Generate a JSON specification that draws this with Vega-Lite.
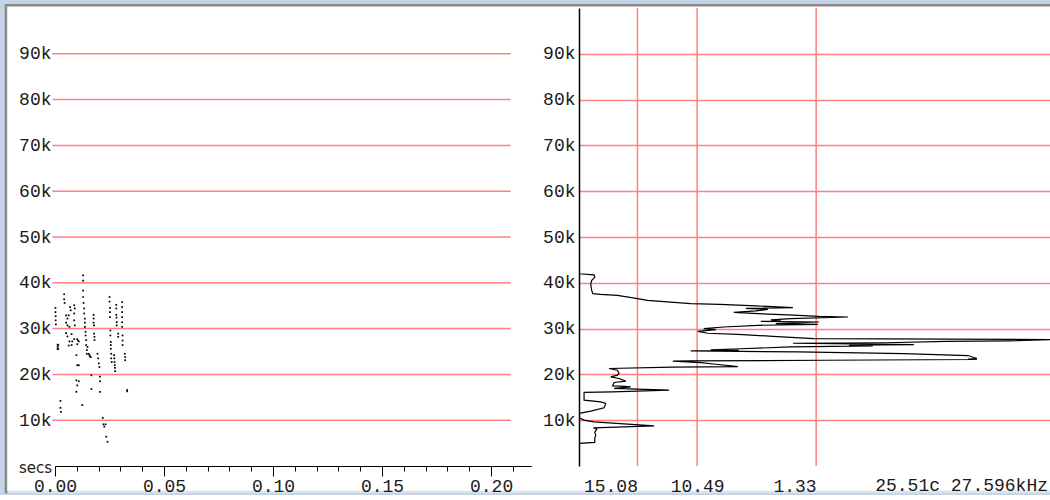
{
  "$schema": "https://vega.github.io/schema/vega-lite/v6.json",
  "background": "#c4d3e6",
  "padding": {"left": 4, "top": 4, "right": 0, "bottom": 0},
  "bounds": "flush",
  "spacing": 48,
  "config": {
    "view": {"stroke": null},
    "axis": {
      "labelFont": "Liberation Mono",
      "labelFontSize": 18,
      "labelColor": "#1a1a1a",
      "domainColor": "#000000",
      "tickColor": "#000000",
      "gridColor": "#ff8080",
      "gridWidth": 1.5,
      "labelFlush": false,
      "labelOverlap": false,
      "labelBound": false
    }
  },
  "datasets": {
    "grid": [{"khz": 10}, {"khz": 20}, {"khz": 30}, {"khz": 40}, {"khz": 50}, {"khz": 60}, {"khz": 70}, {"khz": 80}, {"khz": 90}],
    "markers": [{"level": 15.08}, {"level": 10.49}, {"level": 1.33}],
    "calls": [
      {"secs": 0.0002, "khz": 34.5}, {"secs": 0.0002, "khz": 33.6}, {"secs": 0.0003, "khz": 32.7}, {"secs": 0.0003, "khz": 31.8}, {"secs": 0.0004, "khz": 30.9},
      {"secs": 0.0012, "khz": 26.5}, {"secs": 0.0012, "khz": 26.0}, {"secs": 0.0012, "khz": 25.5}, {"secs": 0.0015, "khz": 26.4}, {"secs": 0.0015, "khz": 25.6},
      {"secs": 0.0025, "khz": 14.2}, {"secs": 0.0025, "khz": 12.7}, {"secs": 0.0027, "khz": 11.8},
      {"secs": 0.0042, "khz": 37.5}, {"secs": 0.0042, "khz": 36.4}, {"secs": 0.0044, "khz": 35.6},
      {"secs": 0.0051, "khz": 32.9}, {"secs": 0.0057, "khz": 32.2}, {"secs": 0.0063, "khz": 32.9}, {"secs": 0.0051, "khz": 31.3}, {"secs": 0.0057, "khz": 30.7},
      {"secs": 0.0066, "khz": 30.4}, {"secs": 0.0051, "khz": 29.0}, {"secs": 0.0057, "khz": 28.3}, {"secs": 0.0066, "khz": 27.2}, {"secs": 0.0063, "khz": 26.3},
      {"secs": 0.0069, "khz": 34.7}, {"secs": 0.0072, "khz": 34.0},
      {"secs": 0.0076, "khz": 28.8}, {"secs": 0.0079, "khz": 27.2}, {"secs": 0.0076, "khz": 26.4},
      {"secs": 0.0088, "khz": 35.1}, {"secs": 0.0091, "khz": 34.4}, {"secs": 0.0088, "khz": 33.3}, {"secs": 0.0088, "khz": 31.8}, {"secs": 0.0091, "khz": 30.7}, {"secs": 0.0088, "khz": 27.7},
      {"secs": 0.0102, "khz": 27.7}, {"secs": 0.0105, "khz": 27.4}, {"secs": 0.0109, "khz": 27.2}, {"secs": 0.0102, "khz": 26.6}, {"secs": 0.0098, "khz": 24.2},
      {"secs": 0.0102, "khz": 22.0}, {"secs": 0.0109, "khz": 22.0}, {"secs": 0.0098, "khz": 18.7}, {"secs": 0.0102, "khz": 17.6}, {"secs": 0.0098, "khz": 16.2}, {"secs": 0.0109, "khz": 18.5},
      {"secs": 0.0129, "khz": 41.6}, {"secs": 0.0129, "khz": 40.5}, {"secs": 0.0129, "khz": 38.3}, {"secs": 0.0129, "khz": 36.9}, {"secs": 0.0131, "khz": 35.6}, {"secs": 0.0134, "khz": 34.4},
      {"secs": 0.0134, "khz": 33.3}, {"secs": 0.0137, "khz": 32.2}, {"secs": 0.0137, "khz": 31.3}, {"secs": 0.0137, "khz": 30.4}, {"secs": 0.014, "khz": 29.3}, {"secs": 0.014, "khz": 28.5},
      {"secs": 0.0143, "khz": 27.5}, {"secs": 0.0143, "khz": 26.4}, {"secs": 0.0146, "khz": 25.3}, {"secs": 0.0146, "khz": 24.5}, {"secs": 0.0125, "khz": 13.3}, {"secs": 0.0149, "khz": 26.0},
      {"secs": 0.0155, "khz": 24.5}, {"secs": 0.0158, "khz": 24.2}, {"secs": 0.0161, "khz": 23.9}, {"secs": 0.0164, "khz": 23.8},
      {"secs": 0.0167, "khz": 19.8}, {"secs": 0.0167, "khz": 16.8},
      {"secs": 0.0177, "khz": 33.0}, {"secs": 0.0177, "khz": 32.2}, {"secs": 0.0177, "khz": 31.3}, {"secs": 0.0179, "khz": 30.7}, {"secs": 0.0179, "khz": 28.9}, {"secs": 0.0181, "khz": 28.2}, {"secs": 0.0181, "khz": 27.5},
      {"secs": 0.0195, "khz": 24.5}, {"secs": 0.0198, "khz": 23.5}, {"secs": 0.0201, "khz": 22.4}, {"secs": 0.0204, "khz": 21.6},
      {"secs": 0.0206, "khz": 19.5}, {"secs": 0.0207, "khz": 18.5}, {"secs": 0.0206, "khz": 16.2},
      {"secs": 0.0219, "khz": 10.5}, {"secs": 0.0222, "khz": 9.1}, {"secs": 0.0232, "khz": 9.1}, {"secs": 0.0226, "khz": 8.6}, {"secs": 0.0235, "khz": 6.4}, {"secs": 0.0241, "khz": 5.3},
      {"secs": 0.025, "khz": 36.9}, {"secs": 0.025, "khz": 35.9}, {"secs": 0.0252, "khz": 34.5}, {"secs": 0.0252, "khz": 33.6}, {"secs": 0.0252, "khz": 32.5}, {"secs": 0.0254, "khz": 29.6},
      {"secs": 0.0254, "khz": 28.5}, {"secs": 0.0256, "khz": 27.1}, {"secs": 0.0256, "khz": 26.4}, {"secs": 0.0256, "khz": 25.6}, {"secs": 0.0258, "khz": 24.5}, {"secs": 0.0258, "khz": 23.5}, {"secs": 0.026, "khz": 22.7},
      {"secs": 0.0271, "khz": 24.2}, {"secs": 0.0272, "khz": 23.5}, {"secs": 0.0273, "khz": 22.7}, {"secs": 0.0274, "khz": 22.0}, {"secs": 0.0275, "khz": 21.4}, {"secs": 0.0276, "khz": 20.7},
      {"secs": 0.0281, "khz": 35.2}, {"secs": 0.0281, "khz": 34.4}, {"secs": 0.0281, "khz": 33.0}, {"secs": 0.0282, "khz": 32.4}, {"secs": 0.0283, "khz": 31.4}, {"secs": 0.0283, "khz": 30.7},
      {"secs": 0.029, "khz": 28.9}, {"secs": 0.029, "khz": 28.2},
      {"secs": 0.0308, "khz": 35.8}, {"secs": 0.0308, "khz": 34.7}, {"secs": 0.0308, "khz": 33.6}, {"secs": 0.0308, "khz": 32.5}, {"secs": 0.0308, "khz": 31.4}, {"secs": 0.0308, "khz": 30.4},
      {"secs": 0.031, "khz": 28.5}, {"secs": 0.031, "khz": 27.4}, {"secs": 0.031, "khz": 26.4},
      {"secs": 0.032, "khz": 24.5}, {"secs": 0.0322, "khz": 23.8}, {"secs": 0.0322, "khz": 23.1},
      {"secs": 0.0331, "khz": 16.6}, {"secs": 0.0331, "khz": 16.3}
    ],
    "spectrum": [
      {"khz": 44.44, "level": 19.58}, {"khz": 41.98, "level": 19.58}, {"khz": 41.72, "level": 18.42}, {"khz": 41.18, "level": 18.37},
      {"khz": 40.52, "level": 18.6}, {"khz": 39.65, "level": 18.68}, {"khz": 38.34, "level": 18.6}, {"khz": 37.63, "level": 18.52},
      {"khz": 37.47, "level": 17.91}, {"khz": 37.25, "level": 16.62}, {"khz": 36.54, "level": 15.08}, {"khz": 36.17, "level": 14.31},
      {"khz": 35.8, "level": 12.52}, {"khz": 35.45, "level": 10.98}, {"khz": 35.29, "level": 8.74}, {"khz": 34.97, "level": 5.97},
      {"khz": 34.58, "level": 3.12}, {"khz": 34.42, "level": 6.74}, {"khz": 34.2, "level": 5.05}, {"khz": 33.88, "level": 5.97},
      {"khz": 33.55, "level": 7.67}, {"khz": 33.27, "level": 5.82}, {"khz": 33.01, "level": 3.51}, {"khz": 32.68, "level": 1.12},
      {"khz": 32.53, "level": -1.11}, {"khz": 32.18, "level": 3.28}, {"khz": 31.92, "level": 4.82}, {"khz": 31.7, "level": 4.05},
      {"khz": 31.59, "level": 5.59}, {"khz": 31.44, "level": 1.12}, {"khz": 31.09, "level": 4.43}, {"khz": 30.94, "level": 1.2},
      {"khz": 30.72, "level": 5.82}, {"khz": 30.35, "level": 8.44}, {"khz": 30.0, "level": 9.98}, {"khz": 29.78, "level": 9.05},
      {"khz": 29.41, "level": 10.44}, {"khz": 28.98, "level": 9.67}, {"khz": 28.76, "level": 7.36}, {"khz": 28.32, "level": 4.66},
      {"khz": 27.82, "level": 1.51}, {"khz": 27.596, "level": -16.74}, {"khz": 27.34, "level": -13.5}, {"khz": 27.23, "level": -8.65},
      {"khz": 26.91, "level": -4.04}, {"khz": 26.8, "level": 3.12}, {"khz": 26.51, "level": -6.19}, {"khz": 26.36, "level": -1.19},
      {"khz": 26.21, "level": -3.03}, {"khz": 25.99, "level": 3.28}, {"khz": 25.6, "level": 7.13}, {"khz": 25.38, "level": 9.44},
      {"khz": 25.27, "level": 7.28}, {"khz": 25.12, "level": 10.98}, {"khz": 24.9, "level": 2.74}, {"khz": 24.55, "level": -5.42},
      {"khz": 24.12, "level": -10.35}, {"khz": 23.46, "level": -11.04}, {"khz": 23.35, "level": -10.35}, {"khz": 23.25, "level": -11.04},
      {"khz": 23.09, "level": 0.74}, {"khz": 22.94, "level": 10.98}, {"khz": 22.88, "level": 12.36}, {"khz": 22.59, "level": 10.21},
      {"khz": 22.22, "level": 9.05}, {"khz": 21.68, "level": 7.36}, {"khz": 21.57, "level": 12.36}, {"khz": 21.29, "level": 17.27},
      {"khz": 20.92, "level": 16.62}, {"khz": 20.2, "level": 16.5}, {"khz": 19.83, "level": 16.62}, {"khz": 19.46, "level": 17.14},
      {"khz": 19.11, "level": 16.5}, {"khz": 18.52, "level": 15.98}, {"khz": 18.24, "level": 16.88}, {"khz": 17.49, "level": 17.0},
      {"khz": 17.45, "level": 16.37}, {"khz": 17.28, "level": 15.6}, {"khz": 16.93, "level": 16.88}, {"khz": 16.56, "level": 12.65},
      {"khz": 16.19, "level": 17.0}, {"khz": 16.06, "level": 19.19}, {"khz": 14.38, "level": 19.19}, {"khz": 14.01, "level": 17.91},
      {"khz": 13.66, "level": 17.52}, {"khz": 12.7, "level": 17.65}, {"khz": 11.98, "level": 18.68}, {"khz": 11.48, "level": 19.56},
      {"khz": 10.52, "level": 19.56}, {"khz": 10.02, "level": 19.19}, {"khz": 9.65, "level": 18.42}, {"khz": 8.78, "level": 13.8},
      {"khz": 8.34, "level": 18.47}, {"khz": 8.06, "level": 18.21}, {"khz": 7.34, "level": 18.37}, {"khz": 6.75, "level": 18.29},
      {"khz": 6.03, "level": 18.37}, {"khz": 5.16, "level": 18.37}, {"khz": 4.95, "level": 19.56}, {"khz": 0.2, "level": 19.56}
    ]
  },
  "hconcat": [
    {
      "width": 476,
      "height": 458,
      "layer": [
        {
          "data": {"values": [{}]},
          "mark": {"type": "rect", "fill": "#ffffff", "stroke": "#8a8a8a", "strokeWidth": 2.5},
          "encoding": {
            "x": {"datum": -0.0225, "type": "quantitative", "scale": {"domain": [0, 0.2183], "nice": false, "zero": false}, "axis": null},
            "x2": {"datum": 0.466},
            "y": {
              "datum": 100.6,
              "type": "quantitative",
              "scale": {"domain": [0, 100], "nice": false, "zero": false},
              "axis": {"title": null, "zindex": 1, "values": [10, 20, 30, 40, 50, 60, 70, 80, 90], "labelExpr": "datum.value + 'k'", "domain": false, "ticks": false, "grid": false, "labelPadding": 4}
            },
            "y2": {"datum": -5.75}
          }
        },
        {
          "data": {"values": [{}]},
          "mark": {"type": "rule", "color": "#dde2ea", "strokeWidth": 3},
          "encoding": {
            "x": {"datum": -0.0218, "type": "quantitative", "axis": null},
            "x2": {"datum": 0.466},
            "y": {
              "datum": -5.75,
              "type": "quantitative",
              "axis": {"title": null, "zindex": 1, "values": [10, 20, 30, 40, 50, 60, 70, 80, 90], "labelExpr": "datum.value + 'k'", "domain": false, "ticks": false, "grid": false, "labelPadding": 4}
            }
          }
        },
        {
          "data": {"name": "grid"},
          "mark": {"type": "rule", "color": "#ff8080", "strokeWidth": 1.5},
          "encoding": {
            "y": {
              "field": "khz",
              "type": "quantitative",
              "axis": {"title": null, "zindex": 1, "values": [10, 20, 30, 40, 50, 60, 70, 80, 90], "labelExpr": "datum.value + 'k'", "domain": false, "ticks": false, "grid": false, "labelPadding": 4}
            },
            "x": {
              "datum": -0.0012,
              "type": "quantitative",
              "axis": {
                "orient": "bottom",
                "title": null,
                "zindex": 1,
                "values": [0, 0.01, 0.02, 0.03, 0.04, 0.05, 0.06, 0.07, 0.08, 0.09, 0.1, 0.11, 0.12, 0.13, 0.14, 0.15, 0.16, 0.17, 0.18, 0.19, 0.2, 0.21],
                "tickSize": 5,
                "labels": false,
                "grid": false,
                "domain": true
              }
            },
            "x2": {"datum": 0.209}
          }
        },
        {
          "data": {"name": "calls"},
          "mark": {"type": "square", "size": 3, "color": "#000000", "opacity": 1},
          "encoding": {
            "x": {
              "field": "secs",
              "type": "quantitative",
              "axis": {
                "orient": "bottom",
                "title": null,
                "zindex": 1,
                "values": [0, 0.05, 0.1, 0.15, 0.2],
                "format": ".2f",
                "tickSize": 10,
                "grid": false,
                "labelBaseline": "alphabetic",
                "labelPadding": 15
              }
            },
            "y": {
              "field": "khz",
              "type": "quantitative",
              "axis": {"title": null, "zindex": 1, "values": [10, 20, 30, 40, 50, 60, 70, 80, 90], "labelExpr": "datum.value + 'k'", "domain": false, "ticks": false, "grid": false, "labelPadding": 4}
            }
          }
        },
        {
          "data": {"values": [{}]},
          "mark": {"type": "text", "text": "secs", "font": "DejaVu Sans", "fontSize": 15, "color": "#222222", "align": "right", "baseline": "alphabetic", "dx": -3, "dy": 7},
          "encoding": {
            "x": {"datum": 0, "type": "quantitative", "axis": null},
            "y": {
              "datum": 0,
              "type": "quantitative",
              "axis": {"title": null, "zindex": 1, "values": [10, 20, 30, 40, 50, 60, 70, 80, 90], "labelExpr": "datum.value + 'k'", "domain": false, "ticks": false, "grid": false, "labelPadding": 4}
            }
          }
        }
      ],
      "resolve": {"axis": {"x": "independent"}}
    },
    {
      "width": 472,
      "height": 458,
      "layer": [
        {
          "data": {"name": "markers"},
          "mark": {"type": "rule", "color": "#ff8080", "strokeWidth": 1.5},
          "encoding": {
            "x": {
              "field": "level",
              "type": "quantitative",
              "scale": {"domain": [-16.74, 19.58], "reverse": true, "nice": false, "zero": false},
              "axis": {"title": null, "values": [15.08, 10.49, 1.33], "format": ".2f", "ticks": false, "tickSize": 0, "domain": false, "grid": false, "labelBaseline": "alphabetic", "labelPadding": 25, "labelAlign": {"condition": {"test": "datum.value == 10.49", "value": "center"}, "value": "right"}}
            }
          }
        },
        {
          "data": {"name": "spectrum"},
          "mark": {"type": "line", "color": "#000000", "strokeWidth": 1.2, "clip": true},
          "encoding": {
            "x": {
              "field": "level",
              "type": "quantitative",
              "axis": {"title": null, "values": [15.08, 10.49, 1.33], "format": ".2f", "ticks": false, "tickSize": 0, "domain": false, "grid": false, "labelBaseline": "alphabetic", "labelPadding": 25, "labelAlign": {"condition": {"test": "datum.value == 10.49", "value": "center"}, "value": "right"}}
            },
            "y": {
              "field": "khz",
              "type": "quantitative",
              "scale": {"domain": [0, 100], "nice": false, "zero": false},
              "axis": {"title": null, "values": [10, 20, 30, 40, 50, 60, 70, 80, 90], "labelExpr": "datum.value + 'k'", "domain": true, "domainWidth": 1.5, "ticks": false, "grid": true, "labelPadding": 4}
            },
            "order": {"field": "khz", "type": "quantitative", "sort": "descending"}
          }
        },
        {
          "data": {"values": [{}]},
          "mark": {"type": "text", "text": "25.51c 27.596kHz", "font": "Liberation Mono", "fontSize": 18, "color": "#1a1a1a", "align": "right", "baseline": "alphabetic", "dx": -3, "dy": 25},
          "encoding": {
            "x": {
              "datum": -16.74,
              "type": "quantitative",
              "axis": {"title": null, "values": [15.08, 10.49, 1.33], "format": ".2f", "ticks": false, "tickSize": 0, "domain": false, "grid": false, "labelBaseline": "alphabetic", "labelPadding": 25, "labelAlign": {"condition": {"test": "datum.value == 10.49", "value": "center"}, "value": "right"}}
            },
            "y": {
              "datum": 0,
              "type": "quantitative",
              "axis": {"title": null, "values": [10, 20, 30, 40, 50, 60, 70, 80, 90], "labelExpr": "datum.value + 'k'", "domain": true, "domainWidth": 1.5, "ticks": false, "grid": true, "labelPadding": 4}
            }
          }
        }
      ]
    }
  ]
}
